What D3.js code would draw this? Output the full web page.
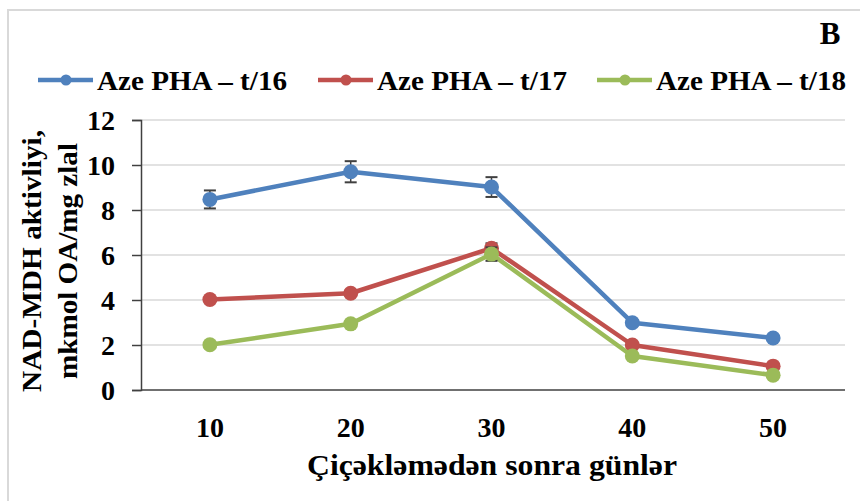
<!DOCTYPE html>
<html>
<head>
<meta charset="utf-8">
<script src="https://cdn.jsdelivr.net/npm/d3@7"></script>
<style>
  html, body { margin: 0; padding: 0; background: #fff; }
  svg { display: block; font-family: "Liberation Serif", "Times New Roman", serif; font-weight: bold; }
</style>
</head>
<body>
<svg id="chart" width="860" height="501"></svg>
<script>
const categories = ["10", "20", "30", "40", "50"];
const seriesNames = ["Aze PHA – t/16", "Aze PHA – t/17", "Aze PHA – t/18"];
const t16 = [8.47, 9.7, 9.02, 2.99, 2.31];
const t17 = [4.02, 4.3, 6.3, 2.0, 1.06];
const t18 = [2.01, 2.94, 6.04, 1.51, 0.66];
const err16 = [0.4, 0.47, 0.44, 0.12, 0.1];
const err17 = [0.08, 0.12, 0.22, 0.1, 0.08];
const err18 = [0.06, 0.08, 0.3, 0.1, 0.06];
const yTicks = [0, 2, 4, 6, 8, 10, 12];
const colors = ["#4f81bd", "#c0504d", "#9bbb59"];
const yTitleLines = ["NAD-MDH aktivliyi,", "mkmol OA/mg zlal"];
const xTitle = "Çiçəkləmədən sonra günlər";
const panelLabel = "B";

const FONT = "Liberation Serif, Times New Roman, serif";
const series = [
  { name: seriesNames[0], values: t16, errs: err16, color: colors[0] },
  { name: seriesNames[1], values: t17, errs: err17, color: colors[1] },
  { name: seriesNames[2], values: t18, errs: err18, color: colors[2] }
];

const svg = d3.select("#chart");
const pLeft = 141, pRight = 845, pTop = 120, pBottom = 390;

// chart border
svg.append("rect").attr("x", 8).attr("y", 10).attr("width", 900).attr("height", 600)
  .attr("fill", "none").attr("stroke", "#d9d9d9").attr("stroke-width", 2);

const x = d3.scaleBand().domain(categories).range([pLeft - 1.5, pRight - 1.5]).padding(0);
const y = d3.scaleLinear().domain([0, 12]).range([pBottom, pTop]);
const cx = c => x(c) + x.bandwidth() / 2;

// gridlines
svg.append("g").selectAll("line").data(yTicks.filter(d => d > 0)).join("line")
  .attr("x1", pLeft).attr("x2", pRight).attr("y1", d => y(d)).attr("y2", d => y(d))
  .attr("stroke", "#d9d9d9").attr("stroke-width", 1.5);

// y axis
const yAxis = svg.append("g").attr("transform", `translate(${pLeft},0)`)
  .call(d3.axisLeft(y).tickValues(yTicks).tickSize(9).tickPadding(17).tickFormat(d3.format("d")));
yAxis.attr("font-family", FONT);
yAxis.select(".domain").attr("stroke", "#404040").attr("stroke-width", 1.5);
yAxis.selectAll(".tick line").attr("stroke", "#404040").attr("stroke-width", 1.5);
yAxis.selectAll("text").attr("font-size", 28).attr("font-family", FONT)
  .attr("font-weight", "bold").attr("fill", "#000").attr("dy", "0.34em");

// x axis
const xAxis = svg.append("g").attr("transform", `translate(0,${pBottom})`)
  .call(d3.axisBottom(x).tickSize(0).tickPadding(27));
xAxis.attr("font-family", FONT);
xAxis.select(".domain").attr("stroke", "#404040").attr("stroke-width", 1.5).attr("d", `M${pLeft},0H${pRight}`);
xAxis.selectAll("text").attr("font-size", 28).attr("font-family", FONT)
  .attr("font-weight", "bold").attr("fill", "#000");

// series
const line = d3.line().x((d, i) => cx(categories[i])).y(d => y(d));
series.forEach(s => {
  const g = svg.append("g");
  g.append("path").datum(s.values).attr("d", line).attr("fill", "none")
    .attr("stroke", s.color).attr("stroke-width", 4.5).attr("stroke-linejoin", "round");
  const eb = g.append("g").selectAll("g").data(s.values).join("g");
  eb.append("line").attr("x1", (d, i) => cx(categories[i])).attr("x2", (d, i) => cx(categories[i]))
    .attr("y1", (d, i) => y(d + s.errs[i])).attr("y2", (d, i) => y(d - s.errs[i]))
    .attr("stroke", "#404040").attr("stroke-width", 1.5);
  [1, -1].forEach(sg => {
    eb.append("line").attr("x1", (d, i) => cx(categories[i]) - 6).attr("x2", (d, i) => cx(categories[i]) + 6)
      .attr("y1", (d, i) => y(d + sg * s.errs[i])).attr("y2", (d, i) => y(d + sg * s.errs[i]))
      .attr("stroke", "#404040").attr("stroke-width", 2);
  });
  g.append("g").selectAll("circle").data(s.values).join("circle")
    .attr("cx", (d, i) => cx(categories[i])).attr("cy", d => y(d)).attr("r", 7.5).attr("fill", s.color);
});

// legend
const legendX = [38, 318, 597];
series.forEach((s, i) => {
  const g = svg.append("g").attr("transform", `translate(${legendX[i]},80)`);
  g.append("line").attr("x1", 0).attr("x2", 55).attr("y1", 0).attr("y2", 0)
    .attr("stroke", s.color).attr("stroke-width", 4.5);
  g.append("circle").attr("cx", 28).attr("cy", 0).attr("r", 5.5).attr("fill", s.color);
  g.append("text").attr("x", 59).attr("y", 10).attr("font-size", 28).attr("font-family", FONT)
    .attr("textLength", 190).attr("lengthAdjust", "spacingAndGlyphs")
    .attr("fill", "#000").text(s.name);
});

// panel label
svg.append("text").attr("x", 830).attr("y", 44).attr("text-anchor", "middle")
  .attr("font-size", 31).attr("font-family", FONT).attr("fill", "#000").text(panelLabel);

// y title
const yt = svg.append("text").attr("transform", "translate(0,261) rotate(-90)")
  .attr("text-anchor", "middle").attr("font-size", 28).attr("font-family", FONT).attr("fill", "#000");
yt.append("tspan").attr("x", 0).attr("y", 41).attr("textLength", 262).attr("lengthAdjust", "spacingAndGlyphs").text(yTitleLines[0]);
yt.append("tspan").attr("x", 0).attr("y", 77).attr("textLength", 236).attr("lengthAdjust", "spacingAndGlyphs").text(yTitleLines[1]);

// x title
svg.append("text").attr("x", 492).attr("y", 475).attr("text-anchor", "middle")
  .attr("font-size", 30).attr("font-family", FONT).attr("textLength", 370).attr("lengthAdjust", "spacingAndGlyphs")
  .attr("fill", "#000").text(xTitle);
</script>
</body>
</html>
